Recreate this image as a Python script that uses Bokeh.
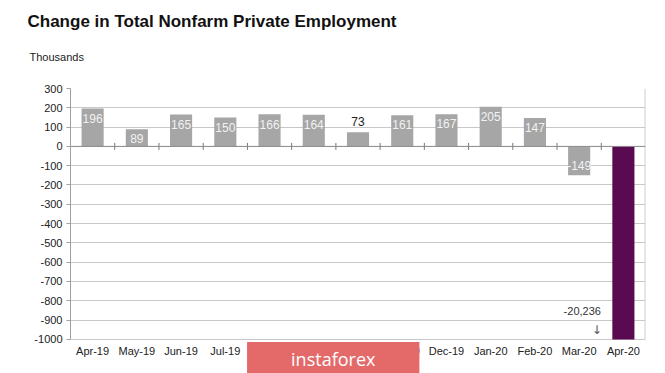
from bokeh.plotting import figure
from bokeh.models import Range1d, FixedTicker, Span, Label, Title, ColumnDataSource
from bokeh.core.properties import value
from bokeh.embed import file_html
from bokeh.resources import INLINE

months = ["Apr-19", "May-19", "Jun-19", "Jul-19", "Aug-19", "Sep-19", "Oct-19",
          "Nov-19", "Dec-19", "Jan-20", "Feb-20", "Mar-20", "Apr-20"]
changes = [196, 89, 165, 150, 166, 164, 73, 161, 167, 205, 147, -149, -20236]
y_ticks = list(range(-1000, 301, 100))
y_min, y_max = -1000, 300

FONT = "Liberation Sans"
GRAY_BAR = "#a6a6a6"
PURPLE = "#5a0a50"

W, H = 665, 373
TOP, LEFT, RIGHT = 89.0, 70, 20
AXIS_H = 250.0                       # pixel height of the -1000..300 axis span
px_per_unit = AXIS_H / (y_max - y_min)
frame_h = H - TOP
y_lo = y_max - frame_h / px_per_unit  # frame extends below the axis to hold the footer band

n = len(months)
xs = [i + 0.5 for i in range(n)]
colors = [GRAY_BAR] * (n - 1) + [PURPLE]
shown = [max(v, y_min) for v in changes]   # bars are cut at the axis minimum

p = figure(width=W, height=H, output_backend="svg", toolbar_location=None,
           x_range=Range1d(0, n), y_range=Range1d(y_lo, y_max), title=None,
           min_border_left=LEFT, min_border_right=RIGHT, min_border_bottom=0, min_border_top=0)
p.background_fill_color = "white"
p.border_fill_color = "white"
p.outline_line_color = None

# bars
src = ColumnDataSource(dict(x=xs, top=shown, color=colors))
p.vbar(x="x", top="top", bottom=0, width=0.5, fill_color="color", line_color=None, source=src)

# zero line
p.add_layout(Span(location=0, dimension="width", line_color="#8c8c8c", line_width=1, level="glyph"))

# right border of plot area
p.segment(x0=[n], x1=[n], y0=[y_min], y1=[y_max], line_color="#d0d0d0", line_width=2)

# category boundary ticks on the zero line
bx = [float(i) for i in range(1, n)]
p.segment(x0=bx, x1=bx, y0=[-18] * len(bx), y1=[18] * len(bx), line_color="#777777", line_width=1)

# bar value labels
lab_x, lab_y, lab_t, lab_c = [], [], [], []
for x, v in zip(xs[:-1], changes[:-1]):
    inside = abs(v) >= 80
    sign = 1 if v >= 0 else -1
    lab_x.append(x)
    lab_y.append(v - sign * 50 if inside else v + 58)
    lab_t.append(str(v))
    lab_c.append("#f2f2f2" if inside else "#222222")
p.text(x=lab_x, y=lab_y, text=lab_t, text_color=lab_c, text_font=value(FONT),
       text_font_size="12px", text_align="center", text_baseline="middle")

# off-scale label for last bar
p.text(x=[xs[-2] + 0.07], y=[y_min + 146], text=[f"{changes[-1]:,}"], text_color="#333333",
       text_font=value(FONT), text_font_size="11px", text_align="center", text_baseline="middle")
p.text(x=[xs[-2] + 0.4], y=[y_min + 47], text=["\u2193"], text_color="#555555",
       text_font=value("DejaVu Sans"), text_font_size="12px", text_align="center",
       text_baseline="middle")

# axes
p.xaxis.fixed_location = y_min
p.xaxis.ticker = FixedTicker(ticks=xs)
p.xaxis.major_label_overrides = {x: m for x, m in zip(xs, months)}
p.xaxis.major_tick_line_color = None
p.xaxis.major_tick_out = 0
p.xaxis.major_tick_in = 0
p.xaxis.minor_tick_line_color = None
p.xaxis.axis_line_color = None
p.xaxis.major_label_standoff = 6
p.xaxis.major_label_text_font = FONT
p.xaxis.major_label_text_font_size = "11px"
p.xaxis.major_label_text_color = "#222222"

p.yaxis.ticker = FixedTicker(ticks=y_ticks)
p.yaxis.major_label_overrides = {t: str(t) for t in y_ticks}
p.yaxis.bounds = (y_min, y_max)
p.yaxis.major_tick_in = 0
p.yaxis.major_tick_out = 4
p.yaxis.major_tick_line_color = "#a0a0a0"
p.yaxis.minor_tick_line_color = None
p.yaxis.axis_line_color = "#a0a0a0"
p.yaxis.major_label_standoff = 4
p.yaxis.major_label_text_font = FONT
p.yaxis.major_label_text_font_size = "11px"
p.yaxis.major_label_text_color = "#222222"

p.xgrid.grid_line_color = None
p.ygrid.ticker = FixedTicker(ticks=y_ticks)
p.ygrid.grid_line_color = "#c8c8c8"

# titles (stacked outward from the plot area)
p.add_layout(Title(text=" ", text_font_size="1px", standoff=14), "above")
p.add_layout(Title(text="Thousands", align="left", offset=-41, text_font=FONT,
                   text_font_size="11px", text_font_style="normal", text_color="#222222",
                   standoff=17), "above")
p.add_layout(Title(text="Change in Total Nonfarm Private Employment", align="left", offset=-43,
                   text_font=FONT, text_font_size="17px", text_font_style="bold",
                   text_color="#111111", standoff=19), "above")

# watermark
p.add_layout(Label(x=5.94, y=y_min - 110, text="instaforex", text_color="white",
                   text_font="Open Sans", text_font_size="18px",
                   text_align="center", text_baseline="middle",
                   background_fill_color="#e46a6a", background_fill_alpha=1.0,
                   padding=dict(left=44, right=44, top=5, bottom=8),
                   level="overlay"))

open("out.html", "w").write(file_html(p, INLINE))
